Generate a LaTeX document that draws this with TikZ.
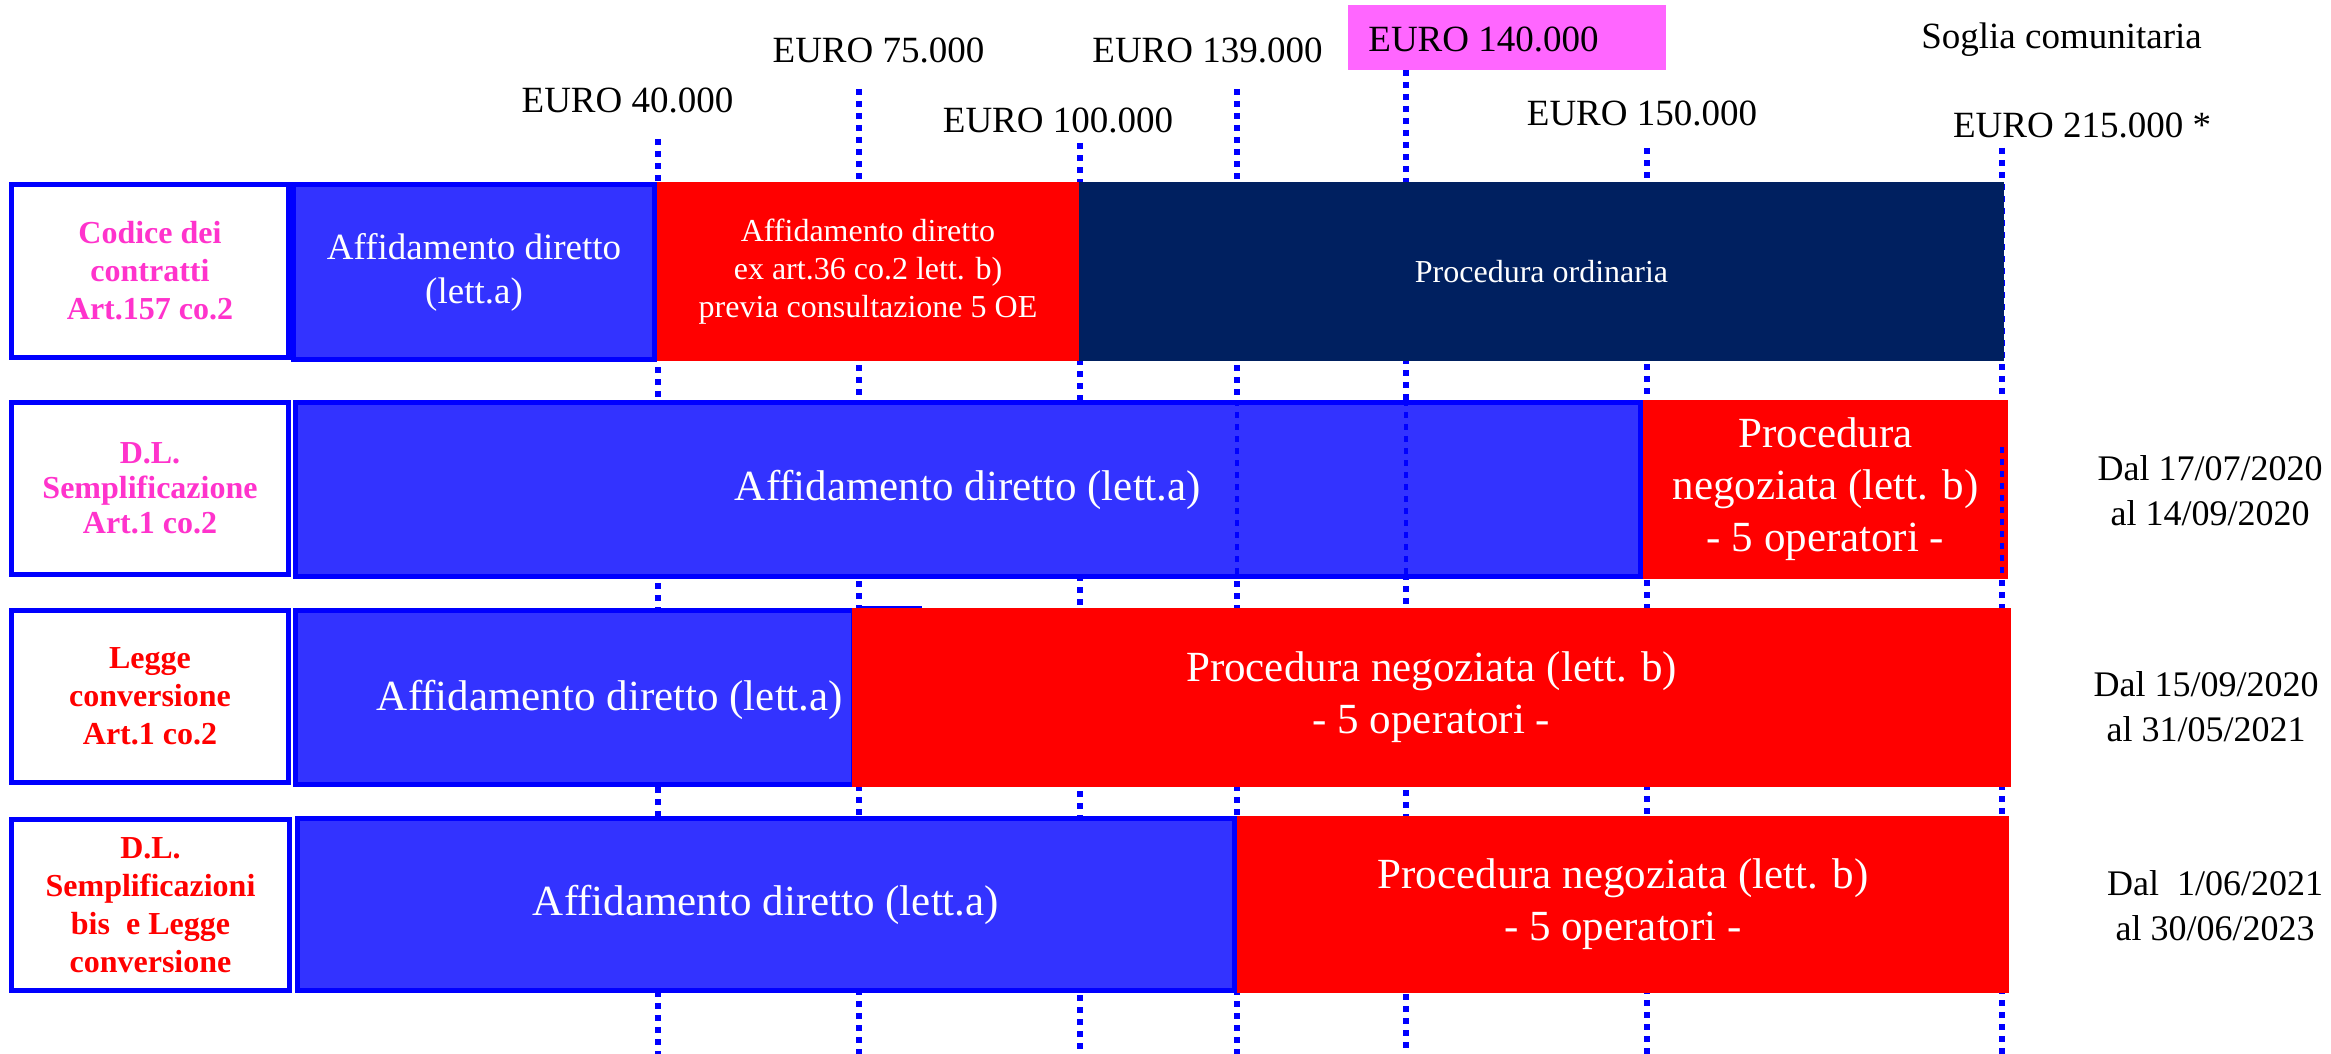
\documentclass[tikz,border=0pt]{standalone}
\usepackage{fontspec}
\setmainfont{Liberation Serif}
\definecolor{bbord}{HTML}{0000FF}
\definecolor{bfill}{HTML}{3333FF}
\definecolor{rfill}{HTML}{FF0000}
\definecolor{nfill}{HTML}{002060}
\definecolor{pfill}{HTML}{FF66FF}
\definecolor{magtxt}{HTML}{FF33CC}
\tikzset{
  lbl/.style={draw=bbord, line width=5pt, fill=white, inner sep=0pt, align=center,
     font=\fontsize{32}{38}\selectfont\bfseries},
  bluebar/.style={draw=bbord, line width=5pt, fill=bfill, inner sep=0pt, align=center, text=white,
     font=\fontsize{43}{52}\selectfont},
  redbar/.style={fill=rfill, inner sep=0pt, align=center, text=white,
     font=\fontsize{43}{52}\selectfont},
  navybar/.style={fill=nfill, inner sep=0pt, align=center, text=white,
     font=\fontsize{32}{38}\selectfont},
  eurolbl/.style={inner sep=0pt, anchor=base, font=\fontsize{37}{44}\selectfont},
  datelbl/.style={inner sep=0pt, align=center, font=\fontsize{36}{45}\selectfont},
  guide/.style={draw=bbord, line width=6pt, dash pattern=on 6pt off 6pt},
}
\begin{document}
\begin{tikzpicture}[x=1pt, y=-1pt]
\useasboundingbox (0,0) rectangle (2331,1054);

% pink highlight
\node[fill=pfill, minimum width=318pt, minimum height=65pt, inner sep=0pt] (pink) at (1507,37.5) {};

% threshold labels
\node[eurolbl] (e40) at (627.5,113) {EURO 40.000};
\node[eurolbl] (e75) at (878.5,63) {EURO 75.000};
\node[eurolbl] (e100) at (1058,133) {EURO 100.000};
\node[eurolbl] (e139) at (1207.5,63) {EURO 139.000};
\node[eurolbl] (e140) at (1483.5,52) {EURO 140.000};
\node[eurolbl] (soglia) at (2061.5,49) {Soglia comunitaria};
\node[eurolbl] (e150) at (1642,126) {EURO 150.000};
\node[eurolbl] (e215) at (2082,138) {EURO 215.000 *};

% guide line coordinates
\coordinate (g40t) at (658,139);   \coordinate (g40b) at (658,1054);
\coordinate (g75t) at (859,89);    \coordinate (g75b) at (859,1054);
\coordinate (g100t) at (1080,143); \coordinate (g100b) at (1080,1054);
\coordinate (g139t) at (1237,89);  \coordinate (g139b) at (1237,1054);
\coordinate (g140t) at (1406,70);  \coordinate (g140b) at (1406,1054);
\coordinate (g150t) at (1647,148); \coordinate (g150b) at (1647,1054);
\coordinate (g215t) at (2002,148); \coordinate (g215b) at (2002,1054);
\foreach \g in {40,75,100,139,140,150,215} {\draw[guide] (g\g t) -- (g\g b);}

% Row 1
\node[lbl, text=magtxt, minimum width=277pt, minimum height=173pt] (lab1) at (150,271)
  {Codice dei\\contratti\\Art.157 co.2};
\node[bluebar, font=\fontsize{37}{44}\selectfont, minimum width=361pt, minimum height=175pt] (b1) at (474,272)
  {Affidamento diretto\\(lett.a)};
\node[redbar, font=\fontsize{32}{38}\selectfont, minimum width=422pt, minimum height=179pt] (r1) at (868,271.5)
  {Affidamento diretto\\ex art.36 co.2 lett. b)\\previa consultazione 5 OE};
\node[navybar, minimum width=925pt, minimum height=179pt] (n1) at (1541.5,271.5) {Procedura ordinaria};

% Row 2
\node[lbl, text=magtxt, font=\fontsize{32}{35}\selectfont\bfseries, minimum width=277pt, minimum height=172pt] (lab2) at (150,488.5)
  {D.L.\\Semplificazione\\Art.1 co.2};
\node[bluebar, minimum width=1345pt, minimum height=174pt] (b2) at (968,489.5)
  {Affidamento diretto (lett.a)};
\node[redbar, minimum width=365pt, minimum height=179pt] (r2) at (1825.5,489.5)
  {Procedura\\negoziata (lett. b)\\- 5 operatori -};
\coordinate (s139t) at (1237,400); \coordinate (s139b) at (1237,578);
\coordinate (s140t) at (1406,400); \coordinate (s140b) at (1406,578);
\coordinate (s215t) at (2002,447); \coordinate (s215b) at (2002,575);
\draw[guide, line width=4pt] (s139t) -- (s139b);
\draw[guide, line width=4pt] (s140t) -- (s140b);
\draw[guide, line width=4pt] (s215t) -- (s215b);
\node[datelbl] (d2) at (2210,491) {Dal 17/07/2020\\al 14/09/2020};

% Row 3
\node[lbl, text=rfill, minimum width=277pt, minimum height=172pt] (lab3) at (150,696.5)
  {Legge\\conversione\\Art.1 co.2};
\node[bluebar, minimum width=558pt, minimum height=174pt] (b3) at (574.5,697.5) {};
\fill[bbord] (856,606) rectangle (922,611);
\node[redbar, minimum width=1159pt, minimum height=179pt] (r3) at (1431.5,697.5)
  {Procedura negoziata (lett. b)\\- 5 operatori -};
\node[inner sep=0pt, text=white, font=\fontsize{43}{52}\selectfont] (t3) at (610,700) {Affidamento diretto (lett.a)};
\node[datelbl] (d3) at (2206,707) {Dal 15/09/2020\\al 31/05/2021};

% Row 4
\node[lbl, text=rfill, minimum width=278pt, minimum height=171pt] (lab4) at (150.5,905)
  {D.L.\\Semplificazioni\\bis\ \ e Legge\\conversione};
\node[bluebar, minimum width=937pt, minimum height=172pt] (b4) at (766,904.5)
  {Affidamento diretto (lett.a)};
\node[redbar, minimum width=772pt, minimum height=177pt] (r4) at (1623,904.5)
  {Procedura negoziata (lett. b)\\- 5 operatori -};
\node[datelbl] (d4) at (2215,906) {Dal\ \ 1/06/2021\\al 30/06/2023};
\end{tikzpicture}
\end{document}
